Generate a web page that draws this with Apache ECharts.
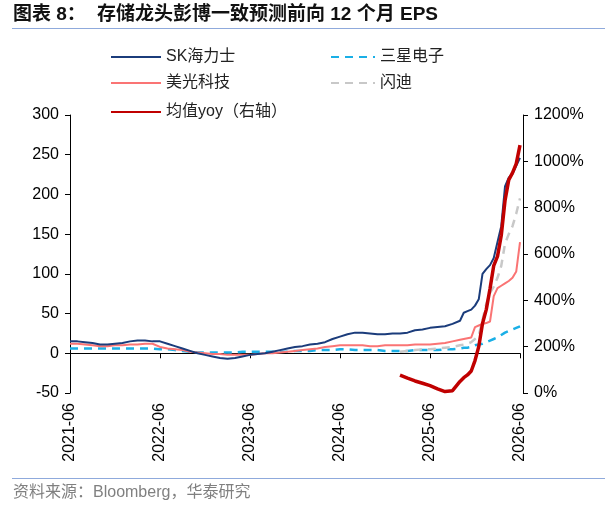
<!DOCTYPE html>
<html>
<head>
<meta charset="utf-8">
<script src="https://cdn.jsdelivr.net/npm/echarts@6/dist/echarts.min.js"></script>
<style>
  html, body { margin: 0; padding: 0; background: #fff; }
  #main { width: 611px; height: 511px; }
</style>
</head>
<body>
<div id="main"></div>
<script>
// months since 2021-06 (denser near the end where lines climb fast)
var months = [0, 1, 2, 3, 4, 5, 6, 7, 8, 9, 10, 11, 12, 13, 14, 15, 16, 17, 18, 19,
  20, 21, 22, 23, 24, 25, 26, 27, 28, 29, 30, 31, 32, 33, 34, 35, 36, 37, 38, 39,
  40, 41, 42, 43, 44, 45, 46, 47, 48, 49, 50, 51, 52,
  52.5, 53, 53.5, 54, 54.5, 55, 55.5, 56, 56.5, 57, 57.5, 58, 58.5, 59, 59.5, 60];

var xLabels = ['2021-06', '2022-06', '2023-06', '2024-06', '2025-06', '2026-06'];

var skHynix = [15, 15, 14, 13, 11, 11, 12, 13, 15, 16, 16, 15, 15, 12, 9, 6, 3, 0, -2, -4,
  -6, -7, -6, -4, -2, -1, 0, 2, 4, 6, 8, 9, 11, 12, 14, 18, 21, 24, 26, 26,
  25, 24, 24, 25, 25, 26, 29, 30, 32, 33, 34, 37, 41,
  51, 53, 55, 60, 68, 100, 106, 111, 120, 140, 160, 210, 221, 226, 236, 246];

var micron = [12, 12, 11, 10, 9, 9, 10, 10, 11, 11, 12, 12, 8, 6, 5, 4, 2, 1, 0, -1,
  -1, -2, -2, -2, -2, -1, 0, 0, 1, 2, 3, 4, 5, 6, 8, 9, 10, 10, 10, 10,
  9, 9, 10, 10, 10, 10, 11, 11, 11, 12, 13, 15, 17,
  18, 19, 20, 33, 35, 37, 38, 40, 72, 82, 85, 88, 91, 95, 103, 140];

var samsung = [6, 6, 6, 6, 6, 6, 6, 6, 6, 6, 6, 6, 5, 5, 4, 3, 2, 1, 1, 1,
  1, 1, 1, 2, 2, 2, 2, 2, 2, 2, 3, 3, 3, 4, 4, 4, 5, 5, 4, 4,
  4, 4, 3, 3, 3, 3, 4, 4, 4, 4, 5, 5, 6,
  7, 7, 8, 10, 11, 12, 14, 16, 18, 20, 23, 26, 28, 30, 32, 34];

var sandisk = [null, null, null, null, null, null, null, null, null, null, null, null, null, null, null, null, null, null, null, null,
  null, null, null, null, null, null, null, null, null, null, null, null, null, null, null, null, null, null, null, null,
  null, null, null, null, 2, 3, 4, 5, 5, 6, 7, 8, 10,
  11, 12, 14, 18, 22, 42, 62, 76, 84, 95, 110, 138, 150, 160, 176, 195];

var yoyMean = [null, null, null, null, null, null, null, null, null, null, null, null, null, null, null, null, null, null, null, null,
  null, null, null, null, null, null, null, null, null, null, null, null, null, null, null, null, null, null, null, null,
  null, null, null, null, 77, 64, 52, 42, 32, 18, 6, 10, 50,
  66, 78, 95, 140, 200, 300, 360, 450, 550, 590, 680, 830, 920, 950, 990, 1070];

function pairs(vals) {
  return months.map(function (m, i) { return [m, vals[i] == null ? '-' : vals[i]]; });
}

var font = "'Liberation Sans', 'Noto Sans CJK SC', sans-serif";
var chart = echarts.init(document.getElementById('main'));

var legendBase = {
  orient: 'vertical', padding: 0,
  itemWidth: 50, itemHeight: 16, itemGap: 10,
  itemStyle: { opacity: 0 },
  textStyle: { fontSize: 16, color: '#222', lineHeight: 16 }
};

var option = {
  animation: false,
  textStyle: { fontFamily: font },
  graphic: [
    { type: 'text', left: 13, top: 5, style: { text: '图表 8：', font: "bold 19px 'Liberation Sans', 'Noto Sans CJK SC'", fill: '#111' } },
    { type: 'text', left: 97, top: 5, style: { text: '存储龙头彭博一致预测前向 12 个月 EPS', font: "bold 19px 'Liberation Sans', 'Noto Sans CJK SC'", fill: '#111' } },
    { type: 'line', shape: { x1: 12, y1: 28.5, x2: 605, y2: 28.5 }, style: { stroke: '#8FAADC', lineWidth: 1.2 } },
    { type: 'line', shape: { x1: 12, y1: 478.5, x2: 605, y2: 478.5 }, style: { stroke: '#8FAADC', lineWidth: 1.2 } },
    { type: 'text', left: 13, top: 485, style: { text: '资料来源：Bloomberg，华泰研究', font: "16px 'Liberation Sans', 'Noto Sans CJK SC'", fill: '#808080' } }
  ],
  legend: [
    Object.assign({}, legendBase, { data: ['SK海力士', '美光科技'], left: 110, top: 49 }),
    Object.assign({}, legendBase, { data: ['三星电子', '闪迪'], left: 330, top: 49, itemWidth: 44 }),
    Object.assign({}, legendBase, { data: ['均值yoy（右轴）'], left: 110, top: 104 })
  ],
  grid: { left: 70, right: 91, top: 115, bottom: 118 },
  xAxis: [
    {
      type: 'value', min: 0, max: 60, interval: 12,
      axisLine: { onZero: true, onZeroAxisIndex: 0, lineStyle: { color: '#000', width: 1 } },
      axisTick: { show: true, length: 5, lineStyle: { color: '#000' } },
      axisLabel: { show: false },
      splitLine: { show: false }
    },
    {
      type: 'value', min: 0, max: 60, interval: 12, position: 'bottom',
      axisLine: { show: false, onZero: false },
      axisTick: { show: false },
      axisLabel: {
        rotate: 90, margin: 10, fontSize: 16, color: '#000',
        formatter: function (v) { return v % 12 === 0 ? xLabels[v / 12] : ''; }
      },
      splitLine: { show: false }
    }
  ],
  yAxis: [
    {
      type: 'value', min: -50, max: 300, interval: 50,
      axisLine: { show: true, onZero: false, lineStyle: { color: '#000' } },
      axisTick: { show: true, length: 5, lineStyle: { color: '#000' } },
      axisLabel: { fontSize: 16, color: '#000', margin: 11 },
      splitLine: { show: false }
    },
    {
      type: 'value', min: 0, max: 1200, interval: 200, offset: 3,
      axisLine: { show: true, onZero: false, lineStyle: { color: '#000' } },
      axisTick: { show: true, length: 5, lineStyle: { color: '#000' } },
      axisLabel: { fontSize: 16, color: '#000', margin: 11, formatter: function (v) { return v + '%'; } },
      splitLine: { show: false }
    }
  ],
  series: [
    {
      name: 'SK海力士', type: 'line', symbol: 'none', data: pairs(skHynix),
      lineStyle: { color: '#1B3C7B', width: 2 }, itemStyle: { color: '#1B3C7B' }, z: 4
    },
    {
      name: '美光科技', type: 'line', symbol: 'none', data: pairs(micron),
      lineStyle: { color: '#FA7474', width: 2 }, itemStyle: { color: '#FA7474' }, z: 3
    },
    {
      name: '三星电子', type: 'line', symbol: 'none', data: pairs(samsung),
      lineStyle: { color: '#1AAFE6', width: 2.5, type: [8, 6] }, itemStyle: { color: '#1AAFE6' }, z: 2
    },
    {
      name: '闪迪', type: 'line', symbol: 'none', data: pairs(sandisk),
      lineStyle: { color: '#C8C8C8', width: 2.5, type: [8, 6] }, itemStyle: { color: '#C8C8C8' }, z: 2
    },
    {
      name: '均值yoy（右轴）', type: 'line', symbol: 'none', yAxisIndex: 1, data: pairs(yoyMean),
      lineStyle: { color: '#C00000', width: 3.5 }, itemStyle: { color: '#C00000' }, z: 5
    }
  ]
};

chart.setOption(option);
</script>
</body>
</html>
